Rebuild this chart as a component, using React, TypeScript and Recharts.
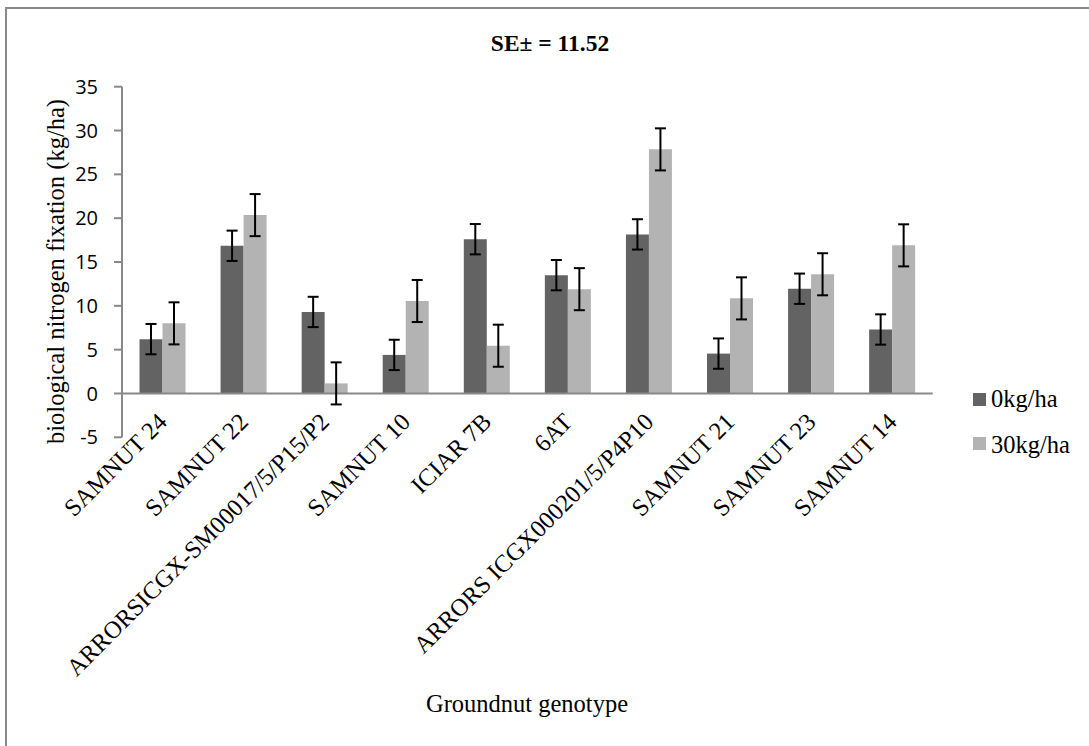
import React from 'react';
import { BarChart, Bar, XAxis, YAxis, ErrorBar, ReferenceLine } from 'recharts';

const genotypes = [
  'SAMNUT 24',
  'SAMNUT 22',
  'ARRORSICGX-SM00017/5/P15/P2',
  'SAMNUT 10',
  'ICIAR 7B',
  '6AT',
  'ARRORS ICGX000201/5/P4P10',
  'SAMNUT 21',
  'SAMNUT 23',
  'SAMNUT 14',
];
const n0 = [6.2, 16.85, 9.3, 4.4, 17.6, 13.5, 18.15, 4.55, 11.95, 7.3];
const n30 = [8.0, 20.35, 1.15, 10.55, 5.45, 11.9, 27.85, 10.85, 13.6, 16.9];
const err0 = [1.73, 1.73, 1.73, 1.73, 1.73, 1.73, 1.73, 1.73, 1.73, 1.73];
const err30 = [2.4, 2.4, 2.4, 2.4, 2.4, 2.4, 2.4, 2.4, 2.4, 2.4];
const yTicks = [-5, 0, 5, 10, 15, 20, 25, 30, 35];
const seriesNames = ['0kg/ha', '30kg/ha'];
const seriesColors = ['#636363', '#b3b3b3'];

const data = genotypes.map((g, i) => ({
  genotype: g,
  n0: n0[i],
  n30: n30[i],
  e0: err0[i],
  e30: err30[i],
}));

const SERIF = '"Liberation Serif", "Times New Roman", serif';
const SANS = '"Open Sans", "Liberation Sans", sans-serif';
const AXIS_GRAY = '#898989';

const XTick = (props: any) => {
  const { x, y, payload } = props;
  return (
    <g transform={`translate(${x + 6},${y - 22})`}>
      <text
        x={0}
        y={0}
        textAnchor="end"
        transform="rotate(-45)"
        fontFamily={SERIF}
        fontSize={24.5}
        fill="#000"
      >
        {payload.value}
      </text>
    </g>
  );
};

export default function App() {
  return (
    <div
      style={{
        position: 'absolute',
        left: 0,
        top: 0,
        width: 1089,
        height: 746,
        background: '#fff',
        overflow: 'hidden',
      }}
    >
      <div
        style={{
          position: 'absolute',
          left: 5,
          top: 7,
          width: 1200,
          height: 900,
          border: `2px solid ${AXIS_GRAY}`,
          boxSizing: 'border-box',
        }}
      />
      <BarChart
        width={1089}
        height={746}
        data={data}
        margin={{ top: 86.7, right: 156.3, bottom: 158.7, left: 52 }}
        barCategoryGap="21.6%"
        barGap={0}
      >
        <XAxis
          dataKey="genotype"
          axisLine={false}
          tickLine={false}
          interval={0}
          height={150}
          tick={<XTick />}
        />
        <YAxis
          width={70}
          domain={[-5, 35]}
          ticks={yTicks}
          interval={0}
          tickSize={8}
          tickMargin={16}
          axisLine={{ stroke: AXIS_GRAY, strokeWidth: 2 }}
          tickLine={{ stroke: AXIS_GRAY, strokeWidth: 2 }}
          tick={{ fill: '#000', fontFamily: SANS, fontSize: 20 }}
        />
        <ReferenceLine y={0} stroke={AXIS_GRAY} strokeWidth={2} />
        <Bar dataKey="n0" name={seriesNames[0]} fill={seriesColors[0]} isAnimationActive={false}>
          <ErrorBar dataKey="e0" width={5.5} strokeWidth={2} stroke="#000" direction="y" />
        </Bar>
        <Bar dataKey="n30" name={seriesNames[1]} fill={seriesColors[1]} isAnimationActive={false}>
          <ErrorBar dataKey="e30" width={5.5} strokeWidth={2} stroke="#000" direction="y" />
        </Bar>
      </BarChart>
      <svg
        width={1089}
        height={746}
        style={{ position: 'absolute', left: 0, top: 0, pointerEvents: 'none' }}
      >
        <text
          x={550}
          y={50.5}
          textAnchor="middle"
          fontFamily={SERIF}
          fontWeight="bold"
          fontSize={23.5}
          fill="#000"
        >
          SE± = 11.52
        </text>
        <text
          x={527}
          y={711.5}
          textAnchor="middle"
          fontFamily={SERIF}
          fontSize={24.5}
          fill="#000"
        >
          Groundnut genotype
        </text>
        <text
          transform="translate(64,271.5) rotate(-90)"
          x={0}
          y={0}
          textAnchor="middle"
          fontFamily={SERIF}
          fontSize={24.5}
          fill="#000"
        >
          biological nitrogen fixation (kg/ha)
        </text>
        {seriesNames.map((name, i) => (
          <g key={name}>
            <rect x={973} y={393 + 44 * i} width={13} height={13} fill={seriesColors[i]} />
            <text x={991} y={407 + 46 * i} fontFamily={SERIF} fontSize={24.5} fill="#000">
              {name}
            </text>
          </g>
        ))}
      </svg>
    </div>
  );
}
